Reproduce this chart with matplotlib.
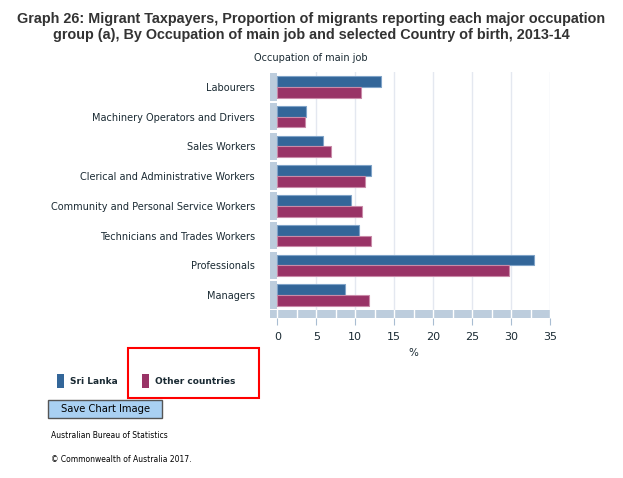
import matplotlib
matplotlib.use('Agg')
import matplotlib.pyplot as plt
from matplotlib.patches import Rectangle

W, H = 623, 478

occupations = ['Labourers', 'Machinery Operators and Drivers', 'Sales Workers',
               'Clerical and Administrative Workers', 'Community and Personal Service Workers',
               'Technicians and Trades Workers', 'Professionals', 'Managers']
sri_lanka = [13.3, 3.7, 5.8, 12.0, 9.5, 10.5, 32.9, 8.7]
other_countries = [10.7, 3.5, 6.9, 11.3, 10.9, 12.0, 29.8, 11.8]
x_ticks = [0, 5, 10, 15, 20, 25, 30, 35]

blue = '#336699'
magenta = '#993366'
wall = '#bdcddd'
text_col = '#1a2a33'


def px(x0, y0, x1, y1):
    # pixel box (top-left origin) -> figure fraction rect
    return [x0 / W, 1 - y1 / H, (x1 - x0) / W, (y1 - y0) / H]


fig = plt.figure(figsize=(W / 100, H / 100), dpi=100)
fig.patch.set_facecolor('white')

unit = (310 - 72) / 8.0
floor_h = (318 - 310) / unit
ax = fig.add_axes(px(270.3, 72, 550, 318))
ax.set_xlim(-0.9, 35)
ax.set_ylim(7.5 + floor_h, -0.5)
for s in ax.spines.values():
    s.set_visible(False)

# vertical grid
for t in x_ticks[1:]:
    ax.plot([t, t], [-0.5, 7.5], color='#e4e8f0', lw=1, zorder=0)

# left wall segments
for i in range(len(occupations)):
    ax.add_patch(Rectangle((-0.9, i - 0.46), 0.9, 0.92, facecolor=wall,
                           edgecolor='none', zorder=1))

# floor with dividers
ax.add_patch(Rectangle((-0.9, 7.5), 35.9, floor_h, facecolor=wall,
                       edgecolor='none', zorder=1))
for k in range(15):
    xv = k * 2.5
    ax.plot([xv, xv], [7.5, 7.5 + floor_h], color='white', lw=1, zorder=2)

ypos = list(range(len(occupations)))
bh = 0.36
ax.barh([y - bh / 2 for y in ypos], sri_lanka, height=bh, color=blue,
        edgecolor='#7fa3c8', linewidth=0.8, zorder=3)
ax.barh([y + bh / 2 for y in ypos], other_countries, height=bh, color=magenta,
        edgecolor='#c98aa8', linewidth=0.8, zorder=3)

ax.set_yticks(ypos)
ax.set_yticklabels(occupations, fontsize=7, color=text_col)
ax.tick_params(axis='y', length=0, pad=11)
ax.set_xticks(x_ticks)
ax.set_xticklabels([str(t) for t in x_ticks], fontsize=8, color=text_col)
ax.tick_params(axis='x', length=5, color='#a9bdd2', pad=5)

fig.text(413 / W, 1 - 353 / H, '%', fontsize=7.5, color=text_col, ha='center', va='center')
fig.text(311 / W, 1 - 58 / H, 'Occupation of main job', fontsize=7, color=text_col,
         ha='center', va='center')

fig.text(311 / W, 1 - 27 / H,
         'Graph 26: Migrant Taxpayers, Proportion of migrants reporting each major occupation\n'
         'group (a), By Occupation of main job and selected Country of birth, 2013-14',
         fontsize=10.4, fontweight='bold', color='#333333', ha='center', va='center',
         family='Liberation Sans', linespacing=1.2)

# legend
fig.patches.append(Rectangle((57 / W, 1 - 388 / H), 7 / W, 14 / H, transform=fig.transFigure,
                             facecolor=blue, edgecolor='none'))
fig.text(70 / W, 1 - 381 / H, 'Sri Lanka', fontsize=6.5, fontweight='bold', color=text_col,
         va='center')
fig.patches.append(Rectangle((142 / W, 1 - 388 / H), 7 / W, 14 / H, transform=fig.transFigure,
                             facecolor=magenta, edgecolor='none'))
fig.text(155 / W, 1 - 381 / H, 'Other countries', fontsize=6.5, fontweight='bold',
         color=text_col, va='center')
fig.patches.append(Rectangle((128 / W, 1 - 398 / H), 131 / W, 50 / H, transform=fig.transFigure,
                             facecolor='none', edgecolor='red', linewidth=1.5))

# button
fig.patches.append(Rectangle((48 / W, 1 - 418 / H), 114 / W, 18 / H, transform=fig.transFigure,
                             facecolor='#a9d0f2', edgecolor='#555555', linewidth=1))
fig.text(106 / W, 1 - 409 / H, 'Save Chart Image', fontsize=7.2, color='black',
         ha='center', va='center')

fig.text(51 / W, 1 - 436 / H, 'Australian Bureau of Statistics', fontsize=5.5,
         color='black', va='center')
fig.text(51 / W, 1 - 460 / H, '\u00a9 Commonwealth of Australia 2017.', fontsize=5.5,
         color='black', va='center')

fig.savefig('out.png', dpi=100)
